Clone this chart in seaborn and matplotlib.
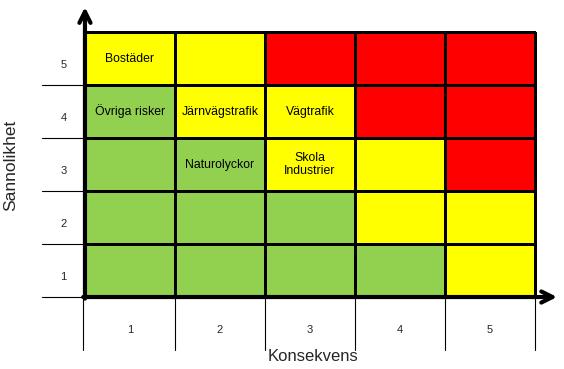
import numpy as np
import pandas as pd
import matplotlib.pyplot as plt
import seaborn as sns
from matplotlib.colors import ListedColormap

# Risk matrix data (rows: Sannolikhet 5 -> 1, columns: Konsekvens 1 -> 5)
# 0 = green, 1 = yellow, 2 = red
konsekvens = [1, 2, 3, 4, 5]
sannolikhet = [5, 4, 3, 2, 1]
levels = [[1, 1, 2, 2, 2],
          [0, 1, 1, 2, 2],
          [0, 0, 1, 1, 2],
          [0, 0, 0, 1, 1],
          [0, 0, 0, 0, 1]]
labels = [["Bostäder", "", "", "", ""],
          ["Övriga risker", "Järnvägstrafik", "Vägtrafik", "", ""],
          ["", "Naturolyckor", "Skola\nIndustrier", "", ""],
          ["", "", "", "", ""],
          ["", "", "", "", ""]]
colors = ["#92D050", "#FFFF00", "#FF0000"]

sns.set_style("white")
plt.rcParams['font.family'] = ['Liberation Sans', 'DejaVu Sans']

df = pd.DataFrame(levels, index=sannolikhet, columns=konsekvens)
# flip so that row 0 (probability 1) sits at the bottom
df = df.iloc[::-1]
annot = np.array(labels)[::-1]

fig = plt.figure(figsize=(5.64, 3.69), dpi=100)
ax = fig.add_axes([0, 0, 1, 1])
sns.heatmap(df, cmap=ListedColormap(colors), vmin=-0.5, vmax=2.5,
            annot=annot, fmt="", annot_kws={"color": "black", "fontsize": 8.8},
            linewidths=0.8, linecolor="black", cbar=False, ax=ax)
ax.set_xlim(-0.944, 5.322)
ax.set_ylim(-1.358, 5.604)
ax.axis("off")

n = len(konsekvens)
# label cells for Konsekvens (below) and Sannolikhet (left)
for i, k in enumerate(konsekvens):
    ax.plot([i + 1, i + 1], [-1, 0], color="black", lw=0.8)
    ax.text(i + 0.5, -0.62, str(k), ha="center", va="center", fontsize=8)
ax.plot([-0.02, -0.02], [-1, 0], color="black", lw=0.8)
for j, s in enumerate(sannolikhet[::-1]):
    ax.plot([-0.48, 0], [j, j], color="black", lw=0.8)
    ax.text(-0.24, j + 0.37, str(s), ha="center", va="center", fontsize=8)

# axes arrows
arrow = dict(arrowstyle="->", lw=3, color="black", mutation_scale=20,
             shrinkA=0, shrinkB=0)
ax.annotate("", xy=(0, 5.47), xytext=(0, -0.03), arrowprops=arrow)
ax.annotate("", xy=(5.245, 0), xytext=(-0.02, 0), arrowprops=arrow)

ax.text(2.53, -1.13, "Konsekvens", ha="center", va="center", fontsize=12)
ax.text(-0.83, 2.49, "Sannolikhet", ha="center", va="center",
        rotation=90, fontsize=12.5)

fig.savefig("out.png", dpi=100)
